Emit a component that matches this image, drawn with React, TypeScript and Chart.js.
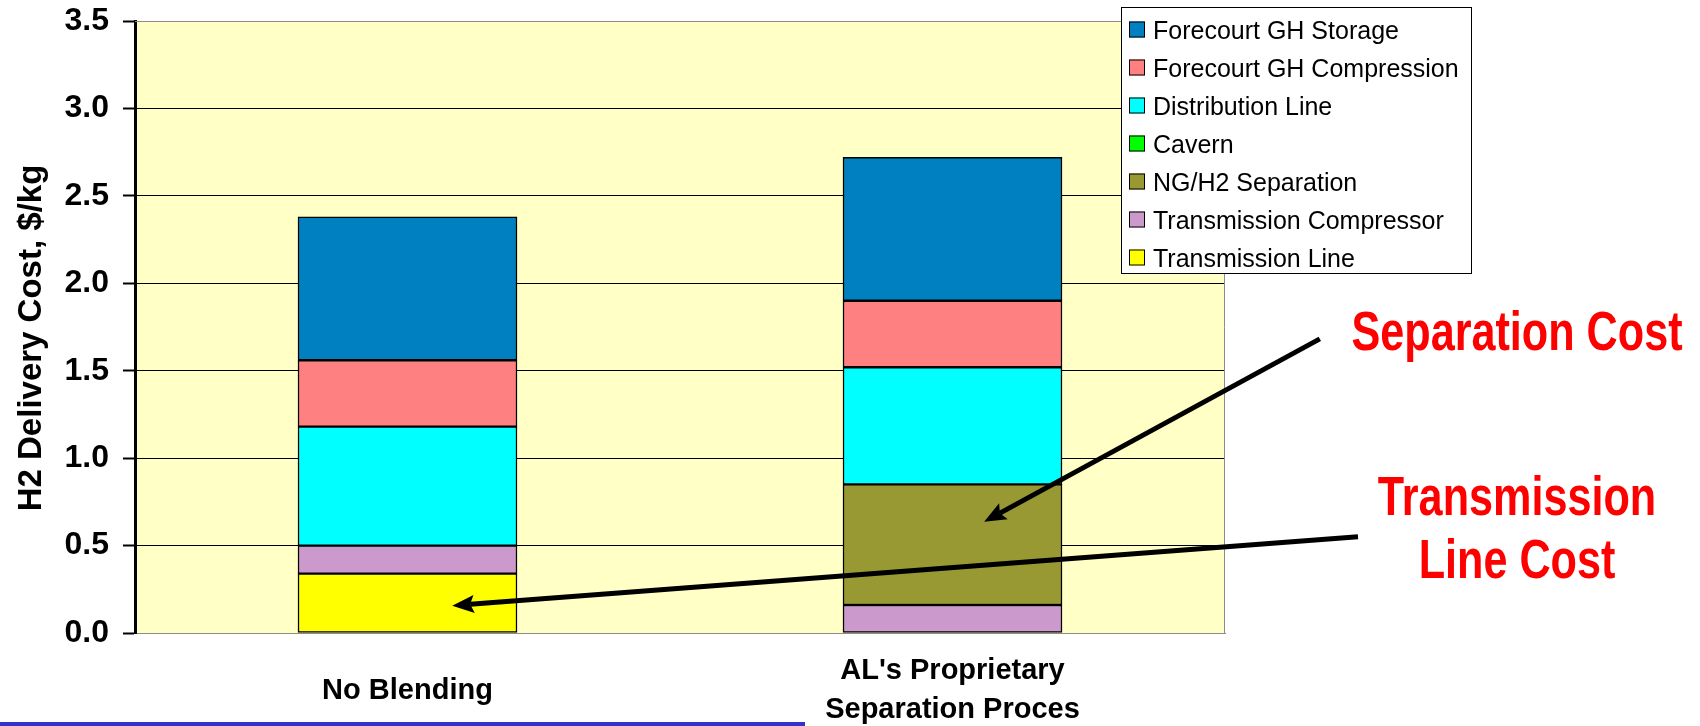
import { useEffect, useRef } from "react";
import { Chart, registerables } from "chart.js";

Chart.register(...registerables);

// Scenarios on the category axis
const categories: (string | string[])[] = [
  "No Blending",
  ["AL's Proprietary", "Separation Proces"],
];

// Cost components, $/kg, listed bottom-up in stacking order
const transmissionLine = [0.34, 0];
const transmissionCompressor = [0.16, 0.16];
const ngH2Separation = [0, 0.69];
const cavern = [0, 0];
const distributionLine = [0.68, 0.67];
const forecourtCompression = [0.38, 0.38];
const forecourtStorage = [0.82, 0.82];

const seriesNames = [
  "Transmission Line",
  "Transmission Compressor",
  "NG/H2 Separation",
  "Cavern",
  "Distribution Line",
  "Forecourt GH Compression",
  "Forecourt GH Storage",
];
const seriesValues = [
  transmissionLine,
  transmissionCompressor,
  ngH2Separation,
  cavern,
  distributionLine,
  forecourtCompression,
  forecourtStorage,
];
const seriesColors = [
  "#FFFF00",
  "#CC99CC",
  "#999933",
  "#00FF00",
  "#00FFFF",
  "#FF8080",
  "#0080C0",
];

const yMin = 0;
const yMax = 3.5;
const yStep = 0.5;
const yTitle = "H2 Delivery Cost, $/kg";

// Callout arrows (category-index / value coordinates: tail -> head)
const arrows = [
  { from: { x: 1.674, y: 1.682 }, to: { x: 1.058, y: 0.636 } },
  { from: { x: 1.744, y: 0.551 }, to: { x: 0.082, y: 0.156 } },
];
const calloutSeparation = ["Separation Cost"];
const calloutTransmission = ["Transmission", "Line Cost"];

const FONT = "'Liberation Sans', Arial, Helvetica, sans-serif";

const plotBackground = {
  id: "plotBackground",
  beforeDraw(chart: Chart) {
    const { ctx, chartArea: a } = chart;
    ctx.save();
    ctx.fillStyle = "#FFFFFF";
    ctx.fillRect(0, 0, chart.width, chart.height);
    ctx.fillStyle = "#FFFFC6";
    ctx.fillRect(a.left, a.top, a.right - a.left, a.bottom - a.top);
    ctx.restore();
  },
  beforeDatasetsDraw(chart: Chart) {
    const { ctx, chartArea: a } = chart;
    ctx.save();
    ctx.strokeStyle = "#8C8C8C";
    ctx.lineWidth = 1;
    ctx.beginPath();
    ctx.moveTo(a.left, Math.round(a.top) + 0.5);
    ctx.lineTo(Math.round(a.right) - 0.5, Math.round(a.top) + 0.5);
    ctx.lineTo(Math.round(a.right) - 0.5, a.bottom);
    ctx.stroke();
    ctx.restore();
  },
};

function drawArrow(ctx: CanvasRenderingContext2D, x1: number, y1: number, x2: number, y2: number) {
  const ang = Math.atan2(y2 - y1, x2 - x1);
  const c = Math.cos(ang);
  const s = Math.sin(ang);
  const headLen = 22;
  const headHalf = 9;
  const bx = x2 - headLen * c;
  const by = y2 - headLen * s;
  ctx.strokeStyle = "#000";
  ctx.fillStyle = "#000";
  ctx.lineWidth = 5;
  ctx.lineCap = "butt";
  ctx.beginPath();
  ctx.moveTo(x1, y1);
  ctx.lineTo(bx + 4 * c, by + 4 * s);
  ctx.stroke();
  ctx.beginPath();
  ctx.moveTo(x2, y2);
  ctx.lineTo(bx - headHalf * s, by + headHalf * c);
  ctx.lineTo(bx + 4 * c, by + 4 * s);
  ctx.lineTo(bx + headHalf * s, by - headHalf * c);
  ctx.closePath();
  ctx.fill();
}

function drawCondensed(ctx: CanvasRenderingContext2D, text: string, cx: number, baseline: number) {
  const squeeze = 0.785;
  ctx.save();
  ctx.translate(cx, baseline);
  ctx.scale(squeeze, 1);
  ctx.textAlign = "center";
  ctx.textBaseline = "alphabetic";
  ctx.fillText(text, 0, 0);
  ctx.restore();
}

const overlay = {
  id: "overlay",
  afterDraw(chart: Chart) {
    const { ctx } = chart;
    const xs = chart.scales.x;
    const ys = chart.scales.y;
    ctx.save();

    // y-axis title, rotated
    ctx.save();
    ctx.translate(32, 338);
    ctx.rotate(-Math.PI / 2);
    ctx.font = `bold 33px ${FONT}`;
    ctx.fillStyle = "#000";
    ctx.textAlign = "center";
    ctx.textBaseline = "middle";
    ctx.fillText(yTitle, 0, 0);
    ctx.restore();

    // legend box, top entry = top of stack
    const lx = 1121;
    const ly = 7;
    const lw = 351;
    const lh = 267;
    ctx.fillStyle = "#FFFFFF";
    ctx.fillRect(lx, ly, lw, lh);
    ctx.strokeStyle = "#000";
    ctx.lineWidth = 1;
    ctx.strokeRect(lx + 0.5, ly + 0.5, lw - 1, lh - 1);
    ctx.font = `25px ${FONT}`;
    ctx.textAlign = "left";
    ctx.textBaseline = "alphabetic";
    const dsList = chart.data.datasets.slice().reverse();
    dsList.forEach((ds: any, i: number) => {
      const cy = 29.5 + i * 38;
      ctx.fillStyle = ds.backgroundColor as string;
      ctx.fillRect(1129, cy - 8, 16, 16);
      ctx.strokeStyle = "#000";
      ctx.lineWidth = 1;
      ctx.strokeRect(1129.5, cy - 7.5, 15, 15);
      ctx.fillStyle = "#000";
      ctx.fillText(ds.label, 1153, cy + 9);
    });

    // callout arrows
    arrows.forEach((a) => {
      drawArrow(
        ctx,
        xs.getPixelForValue(a.from.x),
        ys.getPixelForValue(a.from.y),
        xs.getPixelForValue(a.to.x),
        ys.getPixelForValue(a.to.y)
      );
    });

    // callout text
    ctx.fillStyle = "#FF0000";
    ctx.font = `bold 55px ${FONT}`;
    calloutSeparation.forEach((t, i) => drawCondensed(ctx, t, 1517, 350 + i * 63));
    calloutTransmission.forEach((t, i) => drawCondensed(ctx, t, 1517, 515 + i * 63));

    // slide rule along the bottom edge
    ctx.fillStyle = "#3333CC";
    ctx.fillRect(0, 722, 805, 4);
    ctx.restore();
  },
};

export default function App() {
  const canvasRef = useRef<HTMLCanvasElement | null>(null);

  useEffect(() => {
    if (!canvasRef.current) return;
    const datasets = seriesNames.map((name, i) => ({
      label: name,
      data: seriesValues[i],
      backgroundColor: seriesColors[i],
      borderColor: "#000000",
      borderWidth: 1.5,
      borderSkipped: false as const,
      barThickness: 219,
    }));

    const chart = new Chart(canvasRef.current, {
      type: "bar",
      data: { labels: categories, datasets },
      plugins: [plotBackground, overlay],
      options: {
        responsive: false,
        maintainAspectRatio: false,
        animation: false,
        devicePixelRatio: 1,
        layout: { padding: { top: 21, right: 475, bottom: 0, left: 0 } },
        plugins: {
          legend: { display: false },
          tooltip: { enabled: false },
        },
        scales: {
          x: {
            type: "category",
            stacked: true,
            offset: true,
            grid: { display: false },
            border: { display: true, color: "#8C8C8C", width: 1 },
            afterFit(scale: any) {
              scale.height = 93;
              scale.paddingLeft = 0;
              scale.paddingRight = 0;
            },
            ticks: {
              autoSkip: false,
              maxRotation: 0,
              minRotation: 0,
              padding: 30,
              crossAlign: "center",
              color: "#000",
              font: { family: FONT, size: 29, weight: "bold", lineHeight: 1.345 },
            },
          },
          y: {
            type: "linear",
            stacked: true,
            min: yMin,
            max: yMax,
            afterFit(scale: any) {
              scale.width = 135;
              scale.paddingTop = 0;
              scale.paddingBottom = 0;
            },
            grid: {
              color: (c: any) =>
                c.tick && (c.tick.value === yMin || c.tick.value === yMax) ? "#8C8C8C" : "#000000",
              lineWidth: 1,
              tickLength: 12,
              tickColor: "#000000",
              tickWidth: 2,
            },
            border: { display: true, color: "#000000", width: 3 },
            ticks: {
              stepSize: yStep,
              padding: 14,
              color: "#000",
              font: { family: FONT, size: 32, weight: "bold" },
              callback: (value: any) => Number(value).toFixed(1),
            },
            title: { display: false },
          },
        },
      },
    } as any);

    return () => chart.destroy();
  }, []);

  return (
    <div style={{ position: "absolute", left: 0, top: 0, width: 1700, height: 726 }}>
      <canvas ref={canvasRef} width={1700} height={726} style={{ display: "block" }} />
    </div>
  );
}
